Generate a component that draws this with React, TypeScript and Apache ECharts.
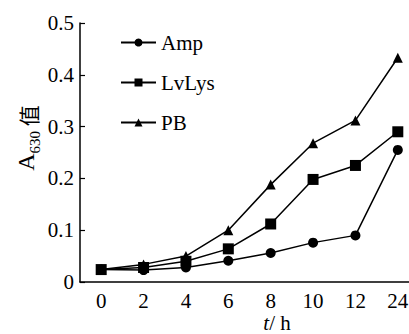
import React, { useEffect, useRef } from "react";
import * as echarts from "echarts";

const categories = ["0", "2", "4", "6", "8", "10", "12", "24"];
const ampValues = [0.024, 0.023, 0.028, 0.041, 0.056, 0.076, 0.09, 0.255];
const lvLysValues = [0.024, 0.028, 0.04, 0.064, 0.112, 0.198, 0.225, 0.29];
const pbValues = [0.024, 0.034, 0.05, 0.1, 0.188, 0.268, 0.312, 0.433];
const seriesNames = ["Amp", "LvLys", "PB"];
const yTicks = { min: 0, max: 0.5, interval: 0.1 };

const SERIF = "'Liberation Serif', 'Times New Roman', 'DejaVu Serif', serif";
const CJK = "'Noto Sans CJK SC', sans-serif";

export default function App() {
  const ref = useRef<HTMLDivElement>(null);
  useEffect(() => {
    document.body.style.margin = "0";
    if (!ref.current) return;
    const chart = echarts.init(ref.current, undefined, { renderer: "svg" });
    const lineStyle = { color: "#000", width: 1.5 };
    const mk = (name: string, data: number[], symbol: string, size: number) => ({
      name,
      type: "line",
      data,
      symbol,
      symbolSize: size,
      showAllSymbol: true,
      itemStyle: { color: "#000" },
      lineStyle,
      z: 3,
    });
    chart.setOption({
      animation: false,
      backgroundColor: "#fff",
      textStyle: { fontFamily: SERIF },
      grid: { left: 80, top: 23, width: 339, height: 259, containLabel: false, outerBoundsMode: "none" },
      legend: {
        orient: "vertical",
        left: 120,
        top: 32,
        itemWidth: 35,
        itemHeight: 10,
        itemGap: 19,
        padding: 0,
        data: seriesNames,
        textStyle: { fontFamily: SERIF, fontSize: 21, color: "#000", lineHeight: 21 },
      },
      xAxis: {
        type: "category",
        data: categories,
        boundaryGap: true,
        axisLine: { lineStyle: { color: "#000", width: 1.5 } },
        axisTick: { inside: true, length: 5, lineStyle: { color: "#000", width: 1.2 } },
        axisLabel: { interval: 0, fontFamily: SERIF, fontSize: 21, color: "#000", margin: 8 },
        splitLine: { show: false },
      },
      yAxis: {
        type: "value",
        min: yTicks.min,
        max: yTicks.max,
        interval: yTicks.interval,
        axisLine: { show: true, lineStyle: { color: "#000", width: 1.5 } },
        axisTick: { show: true, inside: true, length: 5, lineStyle: { color: "#000", width: 1.2 } },
        axisLabel: {
          fontFamily: SERIF,
          fontSize: 21,
          color: "#000",
          margin: 6,
          formatter: (v: number) => (v === 0 ? "0" : v.toFixed(1)),
        },
        splitLine: { show: false },
      },
      series: [
        mk(seriesNames[0], ampValues, "circle", 10),
        mk(seriesNames[1], lvLysValues, "rect", 11),
        mk(seriesNames[2], pbValues, "triangle", 10),
      ],
      graphic: [
        {
          type: "text",
          x: 277,
          y: 312,
          style: {
            text: "{it|t}{n|/ h}",
            align: "center",
            verticalAlign: "top",
            rich: {
              it: { fontFamily: SERIF, fontSize: 21, fontStyle: "italic", fill: "#000" },
              n: { fontFamily: SERIF, fontSize: 21, fill: "#000" },
            },
          },
        },
        {
          type: "text",
          x: 26,
          y: 138,
          rotation: Math.PI / 2,
          style: {
            text: "{a|A}{s|630}{c| 值}",
            align: "center",
            verticalAlign: "middle",
            rich: {
              a: { fontFamily: SERIF, fontSize: 24, fill: "#000", verticalAlign: "bottom" },
              s: { fontFamily: SERIF, fontSize: 15, fill: "#000", verticalAlign: "bottom", padding: [0, 0, -4, 0] },
              c: { fontFamily: CJK, fontSize: 21, fill: "#000", verticalAlign: "bottom" },
            },
          },
        },
      ],
    });
    return () => chart.dispose();
  }, []);
  return <div ref={ref} style={{ width: 409, height: 334 }} />;
}
